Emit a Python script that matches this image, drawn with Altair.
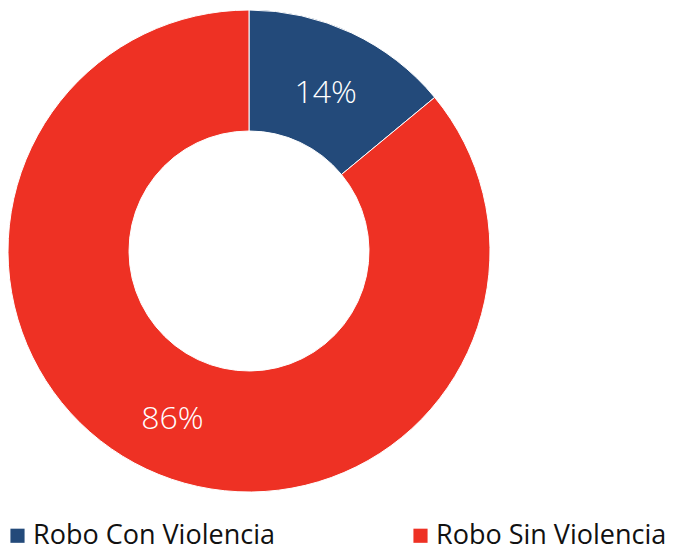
import altair as alt
import pandas as pd

categories = ["Robo Con Violencia", "Robo Sin Violencia"]
values = [14, 86]
labels = ["14%", "86%"]
colors = ["#234a7a", "#ee3124"]

df = pd.DataFrame({"cat": categories, "val": values, "label": labels, "ord": [0, 1]})

FONT = "Open Sans"

base = alt.Chart(df).encode(
    theta=alt.Theta("val:Q", stack=True),
    order=alt.Order("ord:Q"),
)

arc = base.mark_arc(outerRadius=241, innerRadius=120, stroke="white", strokeWidth=1).encode(
    color=alt.Color(
        "cat:N",
        scale=alt.Scale(domain=categories, range=colors),
        legend=alt.Legend(
            title=None,
            orient="none",
            legendX=-4,
            legendY=514,
            padding=0,
            direction="horizontal",
            symbolType="square",
            symbolSize=200,
            symbolStrokeWidth=0,
            labelFont=FONT,
            labelFontSize=27,
            labelColor="#111111",
            labelOffset=2,
            columnPadding=132,
            labelLimit=400,
        ),
    )
)

text = base.mark_text(radius=180, dy=5, font=FONT, fontSize=32, fontWeight=300, color="white").encode(
    text="label:N"
)

chart = (
    alt.layer(arc, text)
    .properties(
        width=482,
        height=486,
        padding={"left": 0, "top": 0, "right": 186, "bottom": 58},
        autosize=alt.AutoSizeParams(type="none"),
    )
    .configure_view(stroke=None)
)

chart.save("out.html", embed_options={"renderer": "svg", "actions": False})
